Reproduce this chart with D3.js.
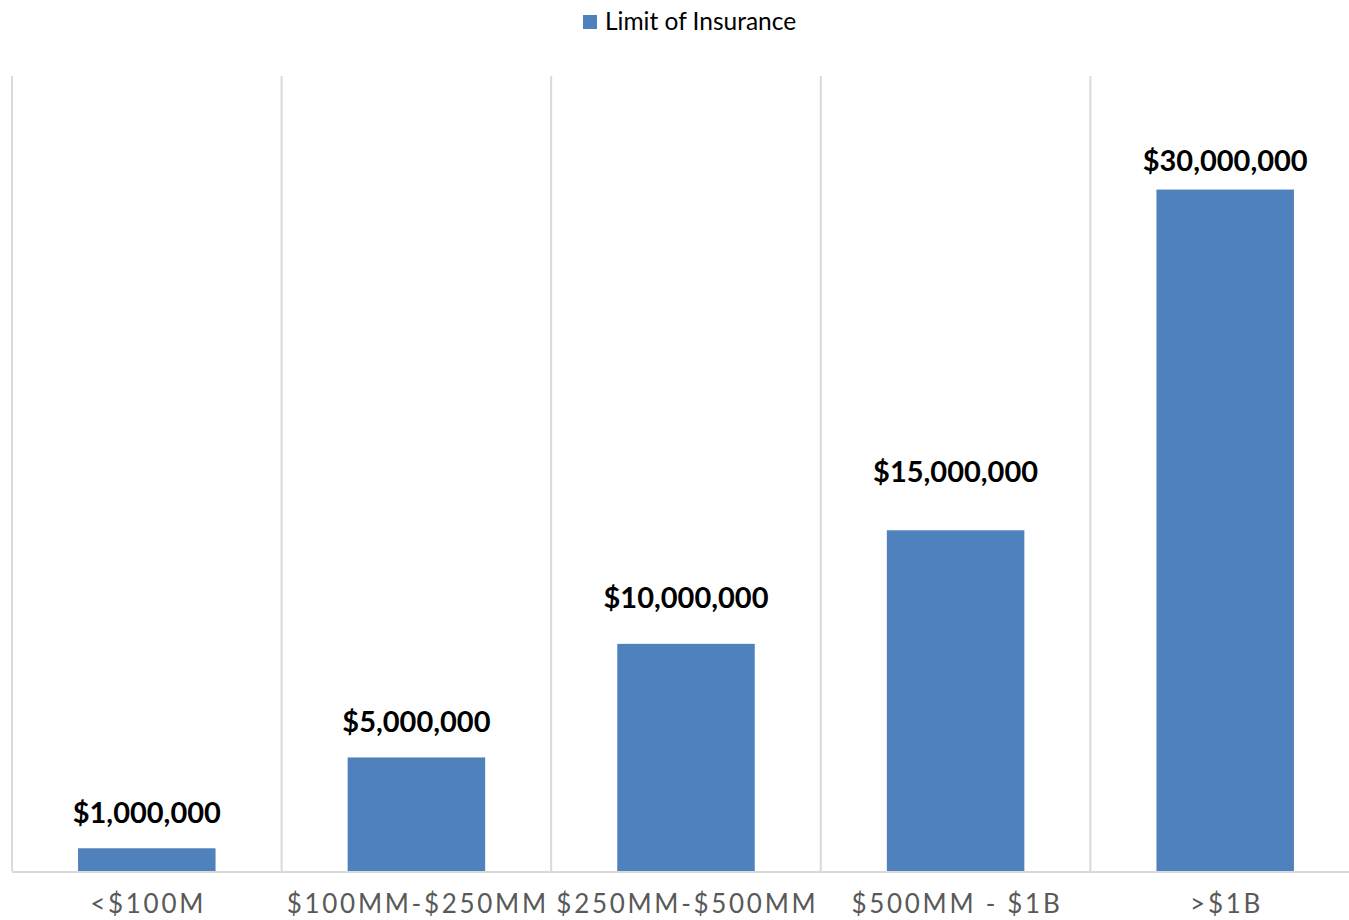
<!DOCTYPE html>
<html>
<head>
<meta charset="utf-8">
<script src="https://cdn.jsdelivr.net/npm/d3@7/dist/d3.min.js"></script>
<style>
  body { margin: 0; background: #fff; }
  svg { display: block; }
</style>
</head>
<body>
<script>
// data
const categories = ["<$100M", "$100MM-$250MM", "$250MM-$500MM", "$500MM - $1B", ">$1B"];
const limits = [1000000, 5000000, 10000000, 15000000, 30000000];
const seriesName = "Limit of Insurance";

// labels were placed by hand in the original, so the gap above each bar differs
const labelGap = [25, 25.5, 36, 48.5, 19];

const W = 1349, H = 920;
const plotLeft = 12, bandW = 269.6, plotTop = 76, base = 871;
const font = "Lato, 'Open Sans', sans-serif";

let svg = d3.select("body")
    .append("svg")
    .attr("width", W)
    .attr("height", H);

const x = d3.scaleBand()
    .domain(categories)
    .range([plotLeft, plotLeft + bandW * categories.length])
    .padding(0);

const y = d3.scaleLinear()
    .domain([0, 35000000])
    .range([base, plotTop]);

// vertical grid lines between categories
svg.append("g")
    .selectAll("line")
    .data(categories)
    .join("line")
    .attr("x1", d => x(d))
    .attr("x2", d => x(d))
    .attr("y1", plotTop)
    .attr("y2", base)
    .attr("stroke", "#d9d9d9")
    .attr("stroke-width", 2);

// bars
const barW = x.bandwidth() * 0.51;
const data = categories.map((c, i) => ({ cat: c, val: limits[i], gap: labelGap[i] }));

svg.append("g")
    .selectAll("rect")
    .data(data)
    .join("rect")
    .attr("x", d => x(d.cat) + (x.bandwidth() - barW) / 2)
    .attr("width", barW)
    .attr("y", d => y(d.val))
    .attr("height", d => y(0) - y(d.val))
    .attr("fill", "#4f81bd");

// baseline
svg.append("line")
    .attr("x1", plotLeft)
    .attr("x2", W)
    .attr("y1", base + 1)
    .attr("y2", base + 1)
    .attr("stroke", "#d9d9d9")
    .attr("stroke-width", 2);

// data labels
svg.append("g")
    .selectAll("text")
    .data(data)
    .join("text")
    .attr("x", d => x(d.cat) + x.bandwidth() / 2)
    .attr("y", d => y(d.val) - d.gap)
    .attr("text-anchor", "middle")
    .style("font-family", font)
    .style("font-weight", "bold")
    .style("font-size", "29px")
    .style("fill", "#000")
    .text(d => "$" + d3.format(",")(d.val));

// category labels
const ls = 2.7;
svg.append("g")
    .selectAll("text")
    .data(categories)
    .join("text")
    .attr("x", d => x(d) + x.bandwidth() / 2 + ls / 2)
    .attr("y", 913)
    .attr("text-anchor", "middle")
    .style("font-family", font)
    .style("font-size", "26px")
    .style("letter-spacing", ls + "px")
    .style("fill", "#595959")
    .text(d => d);

// legend
const leg = svg.append("g").attr("transform", "translate(583, 15)");
leg.append("rect")
    .attr("width", 14)
    .attr("height", 14)
    .attr("fill", "#4f81bd");
leg.append("text")
    .attr("x", 22)
    .attr("y", 15)
    .style("font-family", font)
    .style("font-size", "24.5px")
    .style("fill", "#000")
    .text(seriesName);
</script>
</body>
</html>
